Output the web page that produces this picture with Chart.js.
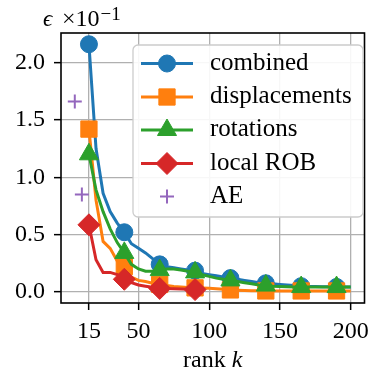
<!DOCTYPE html>
<html>
<head>
<meta charset="utf-8">
<script src="https://cdn.jsdelivr.net/npm/chart.js"></script>
<style>
  html, body { margin: 0; padding: 0; background: #fff; }
  canvas { display: block; }
</style>
</head>
<body>
<canvas id="grafico" width="377" height="371"></canvas>
<script>
// dados (erro x10^-1)
const ranks = [15, 20, 25, 30, 35, 40, 45, 50, 55, 60, 65, 70, 75, 80, 85, 90, 95, 100, 105, 110,
               115, 120, 125, 130, 135, 140, 145, 150, 155, 160, 165, 170, 175, 180, 185, 190, 195, 200];
const combined = [2.16, 1.25, 0.86, 0.70, 0.60, 0.52, 0.42, 0.38, 0.34, 0.29,
                  0.24, 0.22, 0.21, 0.20, 0.19, 0.185, 0.16, 0.15, 0.14, 0.13,
                  0.12, 0.11, 0.10, 0.09, 0.08, 0.075, 0.07, 0.065, 0.06, 0.055,
                  0.05, 0.048, 0.046, 0.045, 0.044, 0.043, 0.042, 0.042];
const displacements = [1.42, 0.80, 0.44, 0.38, 0.27, 0.22, 0.13, 0.10, 0.09, 0.075,
                       0.065, 0.055, 0.047, 0.042, 0.038, 0.035, 0.033, 0.032, 0.028, 0.022,
                       0.017, 0.014, 0.012, 0.010, 0.009, 0.008, 0.008, 0.008, 0.008, 0.008,
                       0.008, 0.008, 0.008, 0.008, 0.008, 0.008, 0.008, 0.008];
const rotations = [1.20, 0.89, 0.70, 0.55, 0.43, 0.34, 0.24, 0.20, 0.18, 0.18,
                   0.19, 0.20, 0.20, 0.19, 0.18, 0.17, 0.15, 0.135, 0.12, 0.11,
                   0.10, 0.09, 0.08, 0.07, 0.06, 0.055, 0.05, 0.047, 0.045, 0.043,
                   0.042, 0.042, 0.042, 0.042, 0.042, 0.042, 0.042, 0.042];
const localROB = [0.585, 0.28, 0.17, 0.17, 0.15, 0.11, 0.08, 0.06, 0.05, 0.04,
                  0.03, 0.03, 0.028, 0.026, 0.024, 0.02];
const aeRanks = [5, 10];
const aeValues = [1.66, 0.85];
const xTicks = [15, 50, 100, 150, 200];
const yTicks = [0.0, 0.5, 1.0, 1.5, 2.0];

const fonte = '"Liberation Serif", "Times New Roman", serif';

function pontos(valores, ks) {
    return valores.map((v, i) => ({ x: ks[i], y: v }));
}

// marcador só a cada 25 (15, 40, 65, ...)
function raioMarcador(r) {
    return (c) => (c.raw && (c.raw.x - 15) % 25 === 0) ? r : 0;
}

function serie(nome, valores, cor, estilo, raio, ordem) {
    return {
        label: nome,
        data: pontos(valores, ranks),
        borderColor: cor,
        backgroundColor: cor,
        pointBackgroundColor: cor,
        pointBorderColor: cor,
        borderWidth: 3,
        pointStyle: estilo,
        pointRadius: raioMarcador(raio),
        pointHoverRadius: raioMarcador(raio),
        pointBorderWidth: 1,
        tension: 0,
        order: ordem
    };
}

const conjuntos = [
    serie('combined', combined, '#1f77b4', 'circle', 8.5, 5),
    serie('displacements', displacements, '#ff7f0e', 'rect', 11.5, 4),
    serie('rotations', rotations, '#2ca02c', 'triangle', 11, 3),
    serie('local ROB', localROB, '#d62728', 'rectRot', 11, 2),
    {
        label: 'AE',
        data: pontos(aeValues, aeRanks),
        borderColor: '#9467bd',
        backgroundColor: '#9467bd',
        showLine: false,
        pointStyle: 'cross',
        pointRadius: 7,
        pointHoverRadius: 7,
        pointBorderWidth: 2,
        order: 1
    }
];

const moldura = {
    id: 'moldura',
    afterDraw(chart) {
        const c = chart.ctx;
        const a = chart.chartArea;
        c.save();

        // eixos (4 lados)
        c.strokeStyle = '#000';
        c.lineWidth = 1.6;
        c.strokeRect(a.left, a.top, a.right - a.left, a.bottom - a.top);

        // legenda
        const lx = 133, ly = 45, lw = 230, lh = 172, rr = 5;
        c.beginPath();
        c.moveTo(lx + rr, ly);
        c.arcTo(lx + lw, ly, lx + lw, ly + lh, rr);
        c.arcTo(lx + lw, ly + lh, lx, ly + lh, rr);
        c.arcTo(lx, ly + lh, lx, ly, rr);
        c.arcTo(lx, ly, lx + lw, ly, rr);
        c.closePath();
        c.fillStyle = 'rgba(255,255,255,0.9)';
        c.fill();
        c.strokeStyle = '#cccccc';
        c.lineWidth = 1.3;
        c.stroke();

        const linhas = [63.5, 97, 130, 163.5, 196.5];
        conjuntos.forEach((ds, i) => {
            const y = linhas[i];
            c.strokeStyle = ds.borderColor;
            c.fillStyle = ds.borderColor;
            if (ds.showLine !== false) {
                c.lineWidth = 3;
                c.beginPath();
                c.moveTo(141, y);
                c.lineTo(193, y);
                c.stroke();
            }
            const r = typeof ds.pointRadius === 'function' ? ds.pointRadius({ raw: { x: 15 } }) : ds.pointRadius;
            c.lineWidth = ds.pointBorderWidth;
            Chart.helpers.drawPoint(c, { pointStyle: ds.pointStyle, rotation: 0, radius: r, borderWidth: ds.pointBorderWidth }, 167, y);
            c.fillStyle = '#000';
            c.font = '25px ' + fonte;
            c.textAlign = 'left';
            c.textBaseline = 'alphabetic';
            c.fillText(ds.label, 210, y + 6);
        });

        // rótulo do eixo y (texto de offset)
        c.fillStyle = '#000';
        c.textAlign = 'left';
        c.font = 'italic 23px ' + fonte;
        c.fillText('\u03f5', 43, 26);
        c.font = '24px ' + fonte;
        c.fillText('\u00d710', 62, 26);
        const w10 = c.measureText('\u00d710').width;
        c.font = '19px ' + fonte;
        c.fillText('\u22121', 62 + w10 + 1, 20);

        // rótulo do eixo x
        c.font = '24px ' + fonte;
        const t1 = 'rank ';
        const w1 = c.measureText(t1).width;
        c.font = 'italic 24px ' + fonte;
        const w2 = c.measureText('k').width;
        const x0 = (a.left + a.right) / 2 - (w1 + w2) / 2;
        c.font = '24px ' + fonte;
        c.fillText(t1, x0, 367);
        c.font = 'italic 24px ' + fonte;
        c.fillText('k', x0 + w1, 367);

        c.restore();
    }
};

const ctx = document.getElementById('grafico').getContext('2d');
const grafico = new Chart(ctx, {
    type: 'line',
    data: { datasets: conjuntos },
    options: {
        responsive: false,
        animation: false,
        devicePixelRatio: 1,
        layout: { padding: { left: 0, right: 4, top: 33, bottom: 0 } },
        plugins: { legend: { display: false }, tooltip: { enabled: false } },
        scales: {
            x: {
                type: 'linear',
                min: -4.75,
                max: 209.75,
                afterBuildTicks: (s) => { s.ticks = xTicks.map(v => ({ value: v })); },
                afterFit: (s) => { s.height = 68; },
                ticks: {
                    font: { family: fonte, size: 24 },
                    color: '#000',
                    padding: 7,
                    maxRotation: 0,
                    autoSkip: false,
                    callback: (v) => String(v)
                },
                grid: { color: '#b0b0b0', lineWidth: 1.3, tickColor: '#000', tickLength: 7, tickWidth: 1.5 },
                border: { display: false }
            },
            y: {
                min: -0.097,
                max: 2.258,
                afterBuildTicks: (s) => { s.ticks = yTicks.map(v => ({ value: v })); },
                afterFit: (s) => { s.width = 61; },
                ticks: {
                    font: { family: fonte, size: 24 },
                    color: '#000',
                    padding: 9,
                    callback: (v) => v.toFixed(1)
                },
                grid: { color: '#b0b0b0', lineWidth: 1.3, tickColor: '#000', tickLength: 7, tickWidth: 1.5 },
                border: { display: false }
            }
        }
    },
    plugins: [moldura]
});
</script>
</body>
</html>
